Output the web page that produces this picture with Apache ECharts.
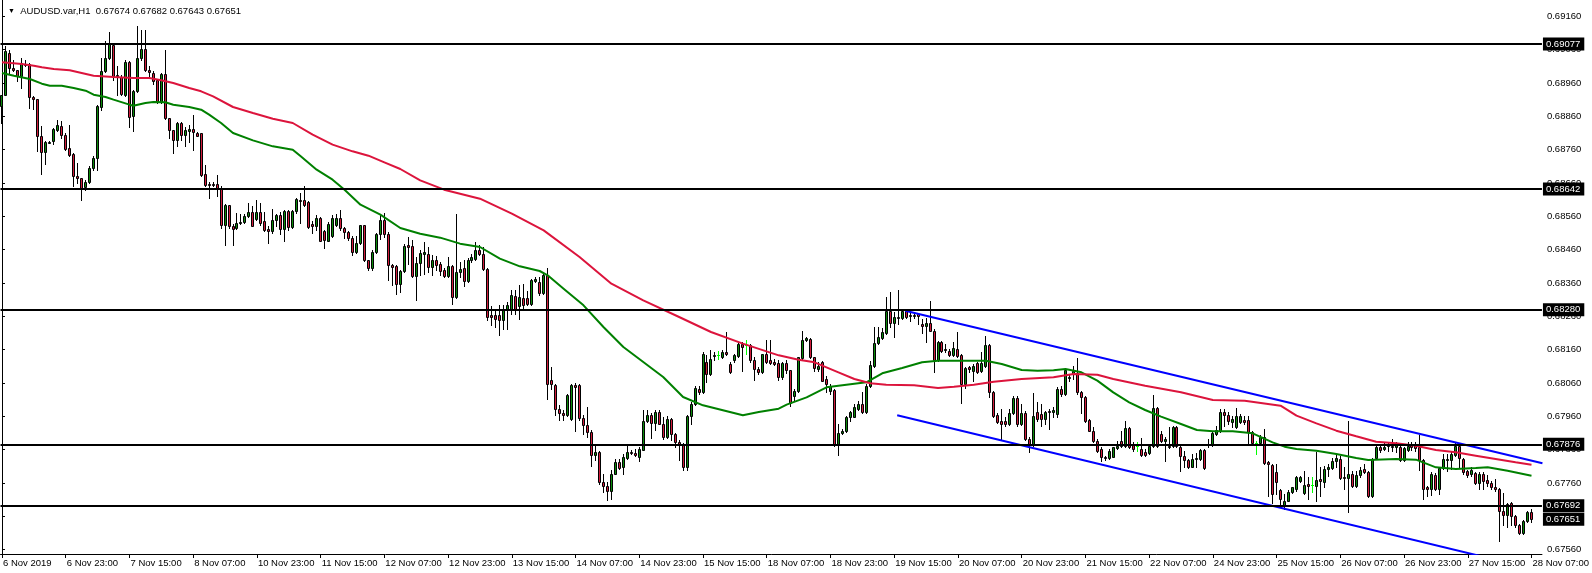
<!DOCTYPE html>
<html><head><meta charset="utf-8">
<script src="https://cdn.jsdelivr.net/npm/echarts@6/dist/echarts.min.js"></script>
<style>html,body{margin:0;padding:0;background:#fff}#c{width:1592px;height:573px}</style>
</head><body><div id="c"></div><script>
const symbolTitle = 'AUDUSD.var,H1';
const tickLabels = ['6 Nov 2019','6 Nov 23:00','7 Nov 15:00','8 Nov 07:00','10 Nov 23:00','11 Nov 15:00','12 Nov 07:00','12 Nov 23:00','13 Nov 15:00','14 Nov 07:00','14 Nov 23:00','15 Nov 15:00','18 Nov 07:00','18 Nov 23:00','19 Nov 15:00','20 Nov 07:00','20 Nov 23:00','21 Nov 15:00','22 Nov 07:00','24 Nov 23:00','25 Nov 15:00','26 Nov 07:00','26 Nov 23:00','27 Nov 15:00','28 Nov 07:00'];
const barsPerLabel = 16;
const priceTicks = [0.67560,0.67660,0.67760,0.67860,0.67960,0.68060,0.68160,0.68260,0.68360,0.68460,0.68560,0.68660,0.68760,0.68860,0.68960,0.69060,0.69160];

const opens = [
0.68890,0.68925,0.69050,0.69005,0.69000,0.68980,0.69018,0.69017,0.68918,0.68912,
0.68800,0.68753,0.68783,0.68785,0.68820,0.68832,0.68805,0.68765,0.68747,0.68682,
0.68675,0.68647,0.68664,0.68705,0.68735,0.68888,0.68995,0.69035,0.69075,0.68985,
0.68978,0.68925,0.69023,0.68860,0.68935,0.69034,0.69062,0.69000,0.68990,0.68968,
0.68902,0.68988,0.68855,0.68818,0.68790,0.68840,0.68805,0.68817,0.68823,0.68810,
0.68810,0.68687,0.68658,0.68658,0.68657,0.68645,0.68533,0.68593,0.68532,0.68524,
0.68542,0.68543,0.68560,0.68572,0.68553,0.68573,0.68547,0.68523,0.68515,0.68550,
0.68565,0.68522,0.68575,0.68528,0.68575,0.68610,0.68608,0.68603,0.68537,0.68530,
0.68555,0.68517,0.68487,0.68500,0.68535,0.68555,0.68525,0.68513,0.68495,0.68452,
0.68480,0.68533,0.68428,0.68405,0.68453,0.68508,0.68548,0.68508,0.68415,0.68410,
0.68356,0.68395,0.68473,0.68470,0.68381,0.68420,0.68446,0.68446,0.68408,0.68430,
0.68418,0.68400,0.68380,0.68410,0.68318,0.68393,0.68405,0.68366,0.68428,0.68433,
0.68458,0.68448,0.68403,0.68263,0.68265,0.68265,0.68250,0.68278,0.68280,0.68320,
0.68290,0.68316,0.68316,0.68298,0.68366,0.68363,0.68330,0.68385,0.68068,0.68053,
0.67983,0.67971,0.67963,0.67953,0.68053,0.68053,0.67956,0.67933,0.67913,0.67843,
0.67853,0.67763,0.67750,0.67736,0.67788,0.67823,0.67808,0.67835,0.67854,0.67850,
0.67838,0.67860,0.67946,0.67963,0.67940,0.67973,0.67938,0.67898,0.67953,0.67906,
0.67883,0.67876,0.67808,0.67960,0.67996,0.68043,0.68033,0.68123,0.68088,0.68140,
0.68143,0.68138,0.68153,0.68118,0.68128,0.68141,0.68176,0.68173,0.68175,0.68128,
0.68103,0.68093,0.68146,0.68128,0.68123,0.68120,0.68078,0.68120,0.68098,0.68022,
0.68035,0.68135,0.68190,0.68192,0.68137,0.68102,0.68122,0.68071,0.68037,0.68039,
0.67875,0.67910,0.67915,0.67957,0.67959,0.67982,0.67997,0.67972,0.68052,0.68112,
0.68180,0.68195,0.68210,0.68275,0.68239,0.68257,0.68255,0.68275,0.68264,0.68263,
0.68267,0.68237,0.68232,0.68239,0.68217,0.68130,0.68182,0.68160,0.68157,0.68145,
0.68162,0.68145,0.68057,0.68109,0.68095,0.68119,0.68095,0.68112,0.68175,0.68032,
0.67964,0.67947,0.67945,0.67937,0.67969,0.68015,0.67937,0.67971,0.67892,0.67875,
0.67972,0.67967,0.67952,0.67977,0.67972,0.67967,0.68042,0.68027,0.68077,0.68087,
0.68089,0.68032,0.68019,0.67949,0.67917,0.67887,0.67862,0.67839,0.67834,0.67839,
0.67865,0.67885,0.67872,0.67925,0.67877,0.67872,0.67862,0.67852,0.67849,0.67872,
0.67985,0.67907,0.67887,0.67872,0.67872,0.67927,0.67869,0.67842,0.67829,0.67809,
0.67832,0.67832,0.67859,0.67877,0.67875,0.67907,0.67917,0.67972,0.67965,0.67942,
0.67927,0.67942,0.67949,0.67949,0.67912,0.67879,0.67879,0.67897,0.67822,0.67815,
0.67792,0.67739,0.67692,0.67707,0.67732,0.67742,0.67765,0.67729,0.67757,0.67755,
0.67752,0.67772,0.67762,0.67801,0.67805,0.67825,0.67832,0.67779,0.67775,0.67787,
0.67752,0.67785,0.67802,0.67792,0.67722,0.67835,0.67867,0.67862,0.67872,0.67872,
0.67869,0.67867,0.67829,0.67859,0.67875,0.67877,0.67869,0.67829,0.67747,0.67742,
0.67785,0.67742,0.67805,0.67829,0.67829,0.67845,0.67872,0.67832,0.67795,0.67787,
0.67789,0.67759,0.67787,0.67769,0.67759,0.67749,0.67742,0.67677,0.67665,0.67699,
0.67660,0.67635,0.67609,0.67647,0.67674];

const highs = [
0.68925,0.69070,0.69060,0.69030,0.69000,0.69035,0.69030,0.69020,0.68920,0.68912,
0.68830,0.68785,0.68785,0.68825,0.68850,0.68845,0.68810,0.68835,0.68750,0.68720,
0.68675,0.68670,0.68710,0.68740,0.68895,0.69035,0.69085,0.69113,0.69078,0.69010,
0.68985,0.69030,0.69025,0.68940,0.69130,0.69120,0.69120,0.69010,0.68995,0.68970,
0.68990,0.69060,0.68855,0.68820,0.68842,0.68842,0.68828,0.68835,0.68865,0.68812,
0.68810,0.68715,0.68662,0.68662,0.68685,0.68652,0.68597,0.68595,0.68538,0.68570,
0.68568,0.68568,0.68600,0.68590,0.68610,0.68600,0.68574,0.68530,0.68583,0.68568,
0.68572,0.68580,0.68580,0.68578,0.68615,0.68630,0.68652,0.68605,0.68545,0.68565,
0.68557,0.68520,0.68542,0.68565,0.68567,0.68580,0.68528,0.68515,0.68500,0.68500,
0.68535,0.68535,0.68430,0.68460,0.68510,0.68568,0.68570,0.68513,0.68418,0.68413,
0.68398,0.68478,0.68498,0.68488,0.68438,0.68458,0.68483,0.68468,0.68443,0.68440,
0.68423,0.68406,0.68438,0.68413,0.68568,0.68423,0.68428,0.68436,0.68446,0.68483,
0.68473,0.68468,0.68406,0.68290,0.68283,0.68293,0.68293,0.68303,0.68338,0.68338,
0.68355,0.68358,0.68335,0.68373,0.68378,0.68378,0.68393,0.68406,0.68108,0.68058,
0.67993,0.67978,0.68028,0.68058,0.68061,0.68058,0.67963,0.67988,0.67918,0.67878,
0.67856,0.67788,0.67763,0.67798,0.67833,0.67833,0.67848,0.67873,0.67860,0.67863,
0.67868,0.67978,0.67980,0.67970,0.67978,0.67978,0.67958,0.67960,0.67956,0.67910,
0.67888,0.67880,0.67963,0.68003,0.68050,0.68050,0.68153,0.68143,0.68158,0.68153,
0.68156,0.68160,0.68213,0.68123,0.68148,0.68180,0.68183,0.68190,0.68178,0.68138,
0.68108,0.68148,0.68190,0.68188,0.68133,0.68128,0.68123,0.68128,0.68100,0.68043,
0.68139,0.68217,0.68197,0.68195,0.68139,0.68122,0.68127,0.68082,0.68057,0.68042,
0.67937,0.67922,0.67962,0.67977,0.67997,0.68005,0.68032,0.68057,0.68127,0.68227,
0.68227,0.68225,0.68319,0.68332,0.68272,0.68339,0.68279,0.68277,0.68269,0.68269,
0.68269,0.68252,0.68255,0.68305,0.68222,0.68187,0.68187,0.68177,0.68162,0.68182,
0.68212,0.68147,0.68109,0.68112,0.68117,0.68122,0.68152,0.68202,0.68177,0.68037,
0.67969,0.67982,0.67957,0.67982,0.68022,0.68022,0.67997,0.67977,0.67897,0.68029,
0.68002,0.67997,0.67977,0.67982,0.67987,0.68047,0.68052,0.68105,0.68085,0.68112,
0.68135,0.68037,0.68022,0.67952,0.67927,0.67892,0.67869,0.67842,0.67862,0.67869,
0.67887,0.67917,0.67945,0.67929,0.67882,0.67882,0.67895,0.67862,0.67877,0.68025,
0.67989,0.67917,0.67897,0.67927,0.67932,0.67932,0.67872,0.67857,0.67832,0.67847,
0.67849,0.67862,0.67862,0.67892,0.67917,0.67932,0.67982,0.67982,0.67972,0.67962,
0.67985,0.67967,0.67962,0.67962,0.67917,0.67887,0.67905,0.67922,0.67827,0.67817,
0.67817,0.67742,0.67727,0.67739,0.67749,0.67782,0.67782,0.67797,0.67779,0.67779,
0.67852,0.67807,0.67812,0.67817,0.67835,0.67845,0.67842,0.67807,0.67947,0.67797,
0.67797,0.67807,0.67817,0.67797,0.67835,0.67875,0.67875,0.67882,0.67882,0.67892,
0.67882,0.67877,0.67869,0.67882,0.67882,0.67882,0.67905,0.67832,0.67752,0.67792,
0.67789,0.67807,0.67847,0.67847,0.67852,0.67882,0.67877,0.67835,0.67799,0.67807,
0.67792,0.67792,0.67792,0.67785,0.67767,0.67772,0.67745,0.67729,0.67699,0.67702,
0.67665,0.67637,0.67649,0.67677,0.67682];

const lows = [
0.68840,0.68925,0.68990,0.68995,0.68965,0.68945,0.69010,0.68885,0.68882,0.68755,
0.68688,0.68718,0.68780,0.68778,0.68815,0.68795,0.68760,0.68740,0.68650,0.68660,
0.68610,0.68638,0.68660,0.68700,0.68700,0.68880,0.68992,0.69032,0.68970,0.68925,
0.68925,0.68922,0.68828,0.68815,0.68932,0.69030,0.68995,0.68975,0.68958,0.68900,
0.68900,0.68852,0.68795,0.68750,0.68770,0.68790,0.68770,0.68782,0.68760,0.68800,
0.68680,0.68650,0.68615,0.68650,0.68620,0.68525,0.68475,0.68525,0.68473,0.68522,
0.68538,0.68540,0.68558,0.68530,0.68550,0.68535,0.68517,0.68480,0.68510,0.68532,
0.68508,0.68485,0.68520,0.68524,0.68570,0.68540,0.68590,0.68525,0.68510,0.68518,
0.68485,0.68465,0.68485,0.68498,0.68530,0.68520,0.68495,0.68490,0.68445,0.68450,
0.68477,0.68425,0.68400,0.68400,0.68450,0.68493,0.68498,0.68368,0.68353,0.68328,
0.68333,0.68393,0.68418,0.68378,0.68308,0.68383,0.68388,0.68393,0.68383,0.68398,
0.68383,0.68378,0.68378,0.68298,0.68316,0.68378,0.68350,0.68363,0.68423,0.68430,
0.68443,0.68398,0.68248,0.68233,0.68228,0.68203,0.68223,0.68223,0.68268,0.68268,
0.68253,0.68278,0.68295,0.68293,0.68363,0.68323,0.68326,0.68013,0.68043,0.67963,
0.67948,0.67948,0.67960,0.67948,0.67916,0.67948,0.67908,0.67898,0.67810,0.67828,
0.67758,0.67733,0.67710,0.67713,0.67788,0.67803,0.67788,0.67833,0.67848,0.67840,
0.67825,0.67858,0.67943,0.67896,0.67918,0.67936,0.67893,0.67896,0.67888,0.67868,
0.67828,0.67800,0.67800,0.67938,0.67993,0.68028,0.68030,0.68063,0.68083,0.68128,
0.68133,0.68136,0.68143,0.68090,0.68123,0.68138,0.68096,0.68148,0.68123,0.68068,
0.68088,0.68090,0.68120,0.68116,0.68113,0.68068,0.68073,0.68090,0.67990,0.68007,
0.68032,0.68132,0.68187,0.68135,0.68097,0.68097,0.68065,0.68032,0.68027,0.67872,
0.67844,0.67907,0.67912,0.67947,0.67957,0.67979,0.67969,0.67969,0.68047,0.68109,
0.68177,0.68192,0.68207,0.68227,0.68197,0.68237,0.68252,0.68255,0.68247,0.68255,
0.68237,0.68209,0.68182,0.68215,0.68092,0.68127,0.68152,0.68154,0.68142,0.68142,
0.68139,0.67999,0.68045,0.68092,0.68067,0.68089,0.68092,0.68109,0.68017,0.67959,
0.67939,0.67892,0.67932,0.67935,0.67967,0.67932,0.67935,0.67889,0.67852,0.67872,
0.67947,0.67932,0.67937,0.67922,0.67957,0.67957,0.68022,0.68025,0.68067,0.68072,
0.68027,0.67969,0.67942,0.67915,0.67882,0.67852,0.67825,0.67829,0.67832,0.67837,
0.67862,0.67867,0.67869,0.67865,0.67857,0.67855,0.67842,0.67842,0.67847,0.67869,
0.67869,0.67882,0.67825,0.67865,0.67867,0.67867,0.67797,0.67807,0.67805,0.67807,
0.67807,0.67829,0.67802,0.67867,0.67872,0.67905,0.67912,0.67932,0.67937,0.67927,
0.67925,0.67939,0.67937,0.67875,0.67877,0.67847,0.67877,0.67817,0.67722,0.67699,
0.67727,0.67687,0.67682,0.67705,0.67729,0.67737,0.67762,0.67727,0.67712,0.67732,
0.67707,0.67722,0.67749,0.67782,0.67802,0.67807,0.67772,0.67742,0.67672,0.67747,
0.67749,0.67779,0.67789,0.67717,0.67717,0.67832,0.67852,0.67859,0.67857,0.67857,
0.67852,0.67827,0.67825,0.67857,0.67859,0.67857,0.67799,0.67712,0.67722,0.67725,
0.67739,0.67727,0.67802,0.67797,0.67802,0.67842,0.67805,0.67787,0.67779,0.67782,
0.67757,0.67742,0.67742,0.67752,0.67742,0.67737,0.67585,0.67635,0.67627,0.67635,
0.67627,0.67607,0.67607,0.67642,0.67643];

const closes = [
0.68925,0.69055,0.69005,0.69000,0.68980,0.69020,0.69015,0.68918,0.68912,0.68800,
0.68753,0.68783,0.68784,0.68822,0.68835,0.68805,0.68762,0.68745,0.68680,0.68674,
0.68645,0.68664,0.68705,0.68735,0.68890,0.68995,0.69035,0.69078,0.68980,0.68980,
0.68928,0.69023,0.68858,0.68935,0.69035,0.69062,0.68998,0.68993,0.68965,0.68902,
0.68988,0.68855,0.68820,0.68790,0.68840,0.68805,0.68820,0.68823,0.68812,0.68802,
0.68685,0.68653,0.68656,0.68657,0.68645,0.68533,0.68593,0.68530,0.68523,0.68540,
0.68543,0.68560,0.68573,0.68530,0.68573,0.68540,0.68520,0.68517,0.68550,0.68565,
0.68522,0.68575,0.68528,0.68575,0.68612,0.68608,0.68593,0.68528,0.68530,0.68555,
0.68487,0.68490,0.68537,0.68555,0.68555,0.68525,0.68513,0.68495,0.68452,0.68480,
0.68533,0.68428,0.68405,0.68453,0.68507,0.68548,0.68508,0.68413,0.68408,0.68356,
0.68395,0.68470,0.68468,0.68381,0.68420,0.68450,0.68453,0.68408,0.68430,0.68413,
0.68396,0.68380,0.68410,0.68318,0.68393,0.68403,0.68366,0.68428,0.68438,0.68458,
0.68446,0.68403,0.68258,0.68258,0.68253,0.68250,0.68278,0.68293,0.68323,0.68283,
0.68318,0.68293,0.68298,0.68368,0.68373,0.68330,0.68385,0.68056,0.68056,0.67983,
0.67971,0.67965,0.68023,0.68053,0.68048,0.67956,0.67933,0.67913,0.67843,0.67853,
0.67763,0.67750,0.67736,0.67788,0.67823,0.67806,0.67838,0.67853,0.67852,0.67843,
0.67863,0.67946,0.67963,0.67940,0.67973,0.67938,0.67898,0.67953,0.67906,0.67883,
0.67873,0.67808,0.67960,0.67996,0.68046,0.68033,0.68148,0.68088,0.68133,0.68143,
0.68143,0.68153,0.68146,0.68093,0.68143,0.68176,0.68168,0.68173,0.68128,0.68103,
0.68093,0.68146,0.68123,0.68120,0.68118,0.68078,0.68120,0.68098,0.68000,0.68037,
0.68137,0.68189,0.68194,0.68137,0.68105,0.68112,0.68067,0.68057,0.68052,0.67875,
0.67910,0.67917,0.67959,0.67972,0.67987,0.67997,0.67972,0.68052,0.68115,0.68180,
0.68199,0.68212,0.68275,0.68239,0.68259,0.68255,0.68275,0.68259,0.68260,0.68261,
0.68261,0.68232,0.68239,0.68217,0.68130,0.68182,0.68155,0.68162,0.68145,0.68164,
0.68142,0.68057,0.68105,0.68102,0.68112,0.68092,0.68119,0.68175,0.68032,0.67962,
0.67942,0.67937,0.67937,0.67969,0.68015,0.67937,0.67971,0.67892,0.67875,0.67962,
0.67952,0.67952,0.67972,0.67975,0.67979,0.68042,0.68027,0.68099,0.68079,0.68097,
0.68032,0.68019,0.67945,0.67917,0.67887,0.67855,0.67837,0.67834,0.67857,0.67867,
0.67872,0.67872,0.67925,0.67867,0.67862,0.67872,0.67845,0.67845,0.67872,0.67985,
0.67872,0.67887,0.67892,0.67867,0.67927,0.67872,0.67842,0.67829,0.67809,0.67832,
0.67835,0.67859,0.67805,0.67878,0.67909,0.67919,0.67972,0.67965,0.67945,0.67952,
0.67962,0.67962,0.67942,0.67912,0.67879,0.67879,0.67899,0.67819,0.67817,0.67727,
0.67762,0.67712,0.67707,0.67732,0.67747,0.67777,0.67779,0.67755,0.67752,0.67755,
0.67769,0.67765,0.67802,0.67809,0.67827,0.67835,0.67775,0.67775,0.67787,0.67752,
0.67785,0.67799,0.67792,0.67722,0.67832,0.67869,0.67859,0.67869,0.67873,0.67870,
0.67875,0.67829,0.67865,0.67872,0.67869,0.67865,0.67829,0.67742,0.67742,0.67787,
0.67742,0.67805,0.67832,0.67832,0.67847,0.67872,0.67835,0.67792,0.67785,0.67799,
0.67759,0.67787,0.67765,0.67759,0.67749,0.67742,0.67677,0.67665,0.67697,0.67660,
0.67635,0.67609,0.67647,0.67672,0.67651];

// moving averages: [bar index, price]
const maFast = [[0,0.68990],[3,0.68982],[7,0.68972],[10,0.68958],[12,0.68952],[15,0.68952],[18,0.68945],[21,0.68937],[23,0.68925],[26,0.68918],[28,0.68910],[32,0.68895],[33,0.68892],[36,0.68900],[38,0.68903],[41,0.68902],[43,0.68895],[47,0.68888],[50,0.68880],[52,0.68865],[55,0.68840],[58,0.68810],[63,0.68788],[68,0.68770],[73,0.68760],[75,0.68740],[79,0.68700],[83,0.68670],[86,0.68640],[90,0.68595],[95,0.68565],[100,0.68525],[105,0.68508],[110,0.68496],[115,0.68478],[120,0.68468],[125,0.68433],[130,0.68410],[135,0.68396],[137,0.68383],[141,0.68343],[146,0.68293],[151,0.68228],[156,0.68168],[161,0.68123],[166,0.68078],[171,0.68018],[176,0.67993],[181,0.67978],[186,0.67963],[190,0.67973],[195,0.67983],[197,0.67995],[202,0.68017],[207,0.68047],[212,0.68055],[217,0.68062],[221,0.68089],[226,0.68105],[231,0.68122],[235,0.68127],[241,0.68127],[247,0.68127],[251,0.68117],[256,0.68099],[260,0.68097],[264,0.68098],[267,0.68102],[271,0.68092],[275,0.68067],[279,0.68032],[283,0.68002],[287,0.67979],[291,0.67959],[296,0.67937],[300,0.67919],[304,0.67915],[309,0.67915],[314,0.67909],[319,0.67882],[322,0.67869],[325,0.67862],[330,0.67857],[335,0.67847],[340,0.67835],[343,0.67829],[350,0.67832],[355,0.67830],[360,0.67807],[365,0.67802],[370,0.67805],[373,0.67807],[378,0.67797],[384,0.67782]];
const maSlow = [[0,0.69022],[5,0.69017],[8,0.69012],[10,0.69007],[13,0.69002],[17,0.68998],[20,0.68990],[23,0.68982],[28,0.68978],[33,0.68975],[37,0.68975],[40,0.68968],[43,0.68960],[47,0.68945],[50,0.68935],[53,0.68920],[58,0.68888],[63,0.68870],[68,0.68853],[73,0.68840],[78,0.68805],[83,0.68775],[88,0.68755],[92,0.68742],[96,0.68722],[100,0.68702],[105,0.68668],[111,0.68640],[120,0.68613],[128,0.68568],[136,0.68518],[145,0.68438],[153,0.68358],[161,0.68308],[170,0.68258],[178,0.68213],[186,0.68178],[195,0.68143],[200,0.68130],[204,0.68122],[210,0.68092],[214,0.68072],[218,0.68059],[222,0.68055],[229,0.68053],[235,0.68045],[239,0.68049],[244,0.68055],[249,0.68064],[256,0.68072],[264,0.68077],[269,0.68087],[275,0.68085],[279,0.68072],[287,0.68052],[296,0.68032],[304,0.68009],[312,0.68007],[321,0.67992],[325,0.67962],[330,0.67939],[335,0.67917],[340,0.67900],[345,0.67884],[350,0.67879],[355,0.67872],[360,0.67859],[365,0.67852],[370,0.67842],[375,0.67832],[380,0.67822],[384,0.67815]];

const levelPrices = [0.69077, 0.68642, 0.68280, 0.67876, 0.67692];
const channelUpper = [[226.75, 0.68277], [386.75, 0.67819]];
const channelLower = [[224.75, 0.67963], [386.75, 0.67496]];

const n = opens.length;
const candleData = opens.map((o, i) => [i, o, closes[i], lows[i], highs[i]]);
const tickIdx = tickLabels.map((_, k) => k * barsPerLabel);
const lastPrice = closes[n - 1];
const ohlcText = [opens[n-1], highs[n-1], lows[n-1], closes[n-1]].map(v => v.toFixed(5)).join(' ');
const FONT = "'Liberation Sans', Arial, sans-serif";
const UP = '#0b8a0b', DOWN = '#d01c3c', DOJI = '#00ff00';

function renderCandle(params, api) {
  const i = api.value(0);
  const o = api.value(1), c = api.value(2), lo = api.value(3), hi = api.value(4);
  const pO = api.coord([i, o]), pC = api.coord([i, c]);
  const pL = api.coord([i, lo]), pH = api.coord([i, hi]);
  const k = Math.floor(pO[0]);
  const cx = k + 0.5;
  const yTop = Math.round(Math.min(pO[1], pC[1]));
  const yBot = Math.round(Math.max(pO[1], pC[1]));
  const isDoji = o === c;
  const children = [{
    type: 'line',
    shape: {x1: cx, y1: Math.round(pH[1]), x2: cx, y2: Math.round(pL[1]) + 1},
    style: {stroke: isDoji ? DOJI : '#000', lineWidth: 1}
  }];
  if (isDoji) {
    children.push({type: 'line', shape: {x1: k - 1, y1: yTop + 0.5, x2: k + 2, y2: yTop + 0.5},
      style: {stroke: DOJI, lineWidth: 1}});
  } else {
    children.push({type: 'rect',
      shape: {x: k - 0.5, y: yTop + 0.5, width: 2, height: Math.max(yBot - yTop, 1)},
      style: {fill: c > o ? UP : DOWN, stroke: '#000', lineWidth: 1}});
  }
  return {type: 'group', children};
}

const boxLabel = {show: true, position: 'end', distance: 1, formatter: p => Number(p.value).toFixed(5),
  backgroundColor: '#000', color: '#fff', fontSize: 9.5, fontFamily: FONT, padding: [2, 4, 1, 3]};

const chart = echarts.init(document.getElementById('c'), null, {renderer: 'canvas'});
chart.setOption({
  animation: false,
  backgroundColor: '#ffffff',
  textStyle: {fontFamily: FONT},
  title: {
    left: 3, top: 1,
    text: '{t|\u25BC}  ' + symbolTitle + '  ' + ohlcText,
    textStyle: {fontSize: 9.5, fontWeight: 'normal', color: '#000', fontFamily: FONT,
      rich: {t: {fontSize: 7, color: '#000'}}}
  },
  grid: {left: 0, top: 0, width: 1548, height: 554, containLabel: false},
  xAxis: {
    type: 'value', min: -0.375, max: 386.625,
    axisLine: {show: true, lineStyle: {color: '#000', width: 1}},
    axisTick: {show: true, customValues: tickIdx, length: 4, lineStyle: {color: '#000'}},
    axisLabel: {customValues: tickIdx, formatter: v => tickLabels[Math.round(v / barsPerLabel)],
      align: 'left', margin: 4, fontSize: 9.5, color: '#000', fontFamily: FONT, padding: [0, 0, 0, 1]},
    splitLine: {show: false}
  },
  yAxis: {
    type: 'value', position: 'right', min: 0.67547, max: 0.69209,
    axisLine: {show: true, lineStyle: {color: '#000', width: 1}},
    axisTick: {show: true, customValues: priceTicks, length: 3, lineStyle: {color: '#000'}},
    axisLabel: {customValues: priceTicks, formatter: v => v.toFixed(5), margin: 5,
      fontSize: 9.5, color: '#000', fontFamily: FONT},
    splitLine: {show: false}
  },
  series: [
    {
      type: 'custom', renderItem: renderCandle, data: candleData,
      encode: {x: 0, y: [1, 2, 3, 4]}, clip: true, silent: true, z: 2
    },
    {type: 'line', data: maFast, showSymbol: false, symbol: 'none', silent: true,
      lineStyle: {color: '#008000', width: 2}, z: 3,
      markLine: {
        silent: true, symbol: ['none', 'none'], animation: false, precision: 5,
        emphasis: {disabled: true},
        lineStyle: {color: '#000', width: 2, type: 'solid'},
        label: boxLabel,
        data: levelPrices.map(v => ({yAxis: v}))
      }},
    {type: 'line', data: maSlow, showSymbol: false, symbol: 'none', silent: true,
      lineStyle: {color: '#dc143c', width: 2}, z: 3,
      markLine: {
        silent: true, symbol: ['none', 'none'], animation: false, precision: 5,
        emphasis: {disabled: true},
        lineStyle: {color: 'rgba(0,0,0,0)', width: 1, type: 'solid'},
        label: boxLabel,
        data: [{yAxis: lastPrice}]
      }},
    {type: 'line', data: channelUpper, showSymbol: false, symbol: 'none', silent: true,
      lineStyle: {color: '#0000ff', width: 2}, z: 4},
    {type: 'line', data: channelLower, showSymbol: false, symbol: 'none', silent: true,
      lineStyle: {color: '#0000ff', width: 2}, z: 4}
  ]
});
</script></body></html>
